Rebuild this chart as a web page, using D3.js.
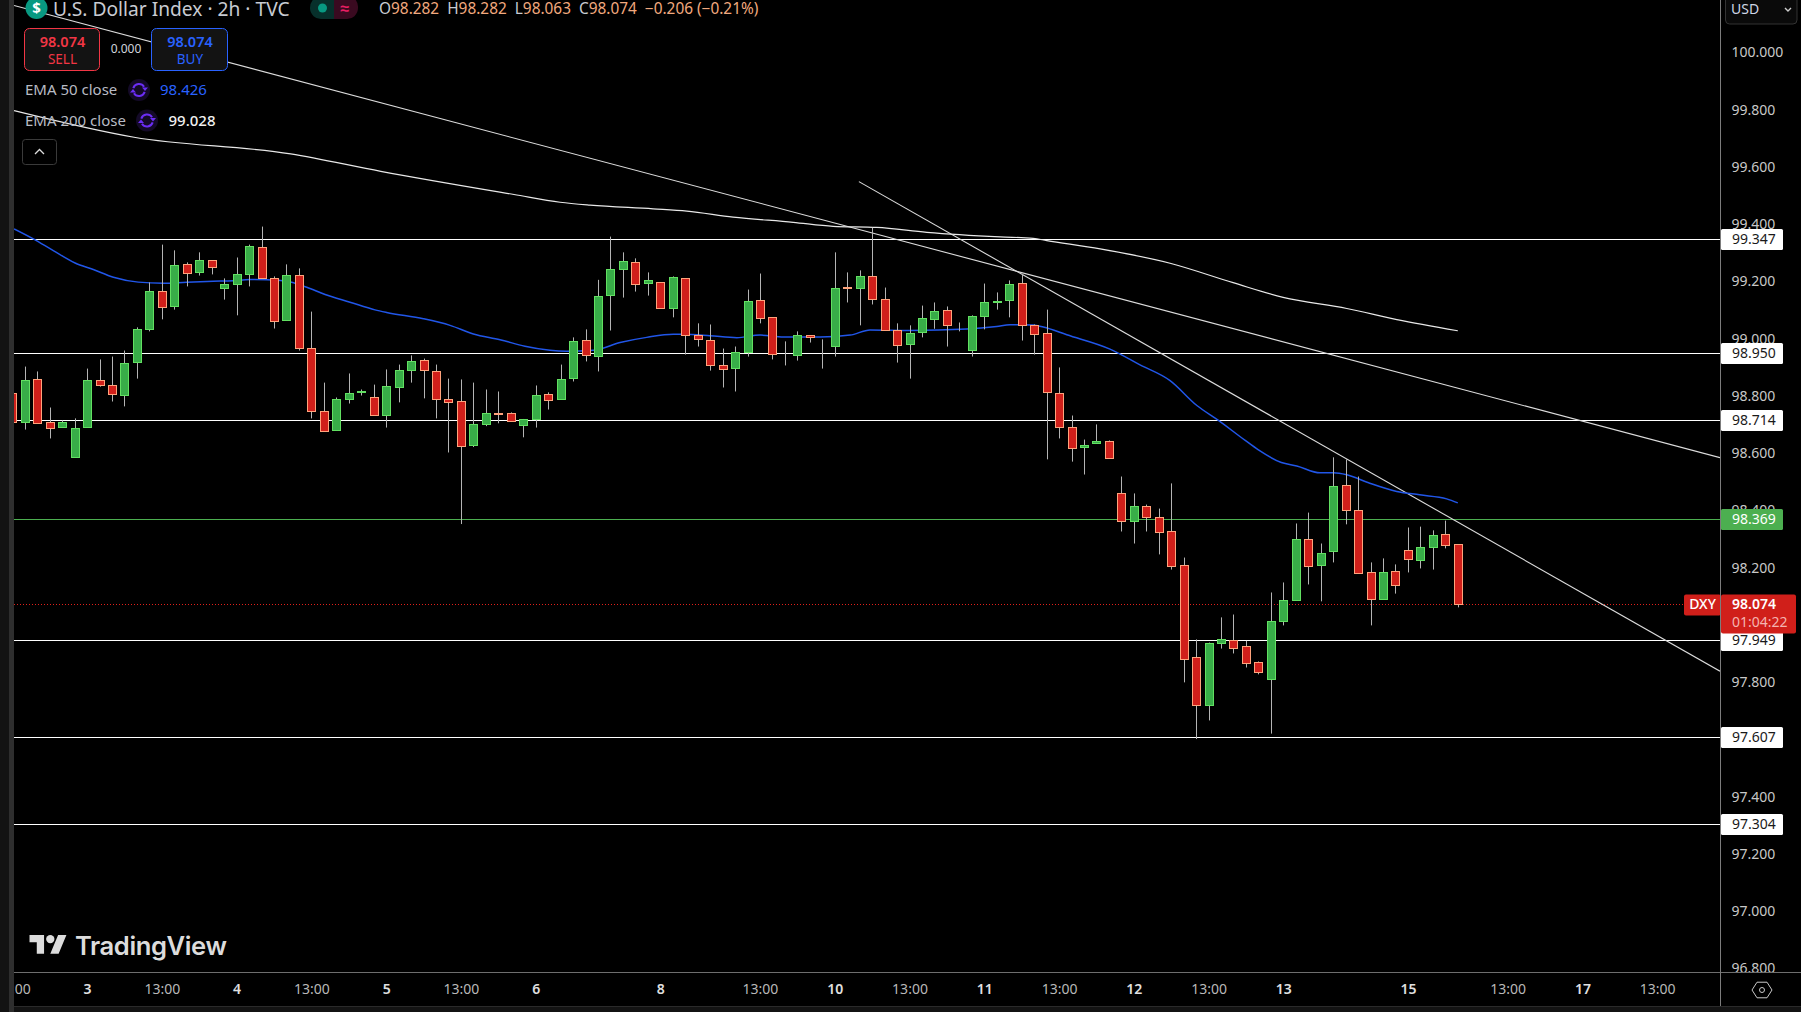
<!DOCTYPE html>
<html>
<head>
<meta charset="utf-8">
<style>
html,body{margin:0;padding:0;background:#000;overflow:hidden}
svg{display:block}
text{font-family:"Noto Sans",sans-serif}
</style>
<script src="https://cdn.jsdelivr.net/npm/d3@7"></script>
</head>
<body>
<svg id="c" width="1801" height="1012"></svg>
<script>
const opens=[98.811,98.708,98.858,98.708,98.690,98.585,98.690,98.854,98.837,98.802,98.917,99.032,99.165,99.113,99.259,99.232,99.273,99.176,99.190,99.225,99.319,99.211,99.064,99.221,98.966,98.746,98.680,98.788,98.815,98.795,98.732,98.830,98.889,98.924,98.886,98.788,98.781,98.630,98.701,98.739,98.739,98.697,98.720,98.805,98.788,98.861,98.994,98.938,99.151,99.242,99.266,99.193,99.197,99.106,99.211,99.012,98.994,98.907,98.896,98.952,99.134,99.074,98.942,98.942,99.012,98.979,98.973,99.179,99.176,99.218,99.137,99.029,98.980,99.022,99.067,99.099,99.047,98.959,99.078,99.127,99.134,99.193,99.046,99.018,98.809,98.690,98.620,98.634,98.641,98.460,98.362,98.414,98.376,98.327,98.208,97.887,97.719,97.936,97.946,97.925,97.869,97.810,98.012,98.086,98.299,98.208,98.257,98.488,98.400,98.184,98.089,98.187,98.260,98.226,98.271,98.316,98.282];
const highs=[98.811,98.904,98.887,98.761,98.716,98.723,98.897,98.929,98.939,98.960,99.041,99.198,99.330,99.310,99.268,99.303,99.273,99.212,99.285,99.330,99.393,99.219,99.261,99.247,99.096,98.848,98.796,98.880,98.824,98.841,98.894,98.911,98.943,98.932,98.911,98.862,98.859,98.848,98.824,98.817,98.744,98.721,98.838,98.814,98.911,99.006,99.034,99.207,99.358,99.303,99.282,99.233,99.197,99.219,99.211,99.055,99.051,98.967,98.974,99.173,99.229,99.074,98.992,99.027,99.012,98.999,99.303,99.233,99.240,99.389,99.180,99.055,99.048,99.117,99.128,99.114,99.058,99.083,99.194,99.163,99.205,99.228,99.051,99.103,98.901,98.733,98.649,98.702,98.646,98.520,98.461,98.422,98.408,98.496,98.237,97.951,97.940,98.028,98.038,97.946,97.874,98.115,98.150,98.356,98.394,98.286,98.587,98.580,98.520,98.220,98.234,98.213,98.342,98.345,98.332,98.366,98.282];
const lows=[98.708,98.684,98.704,98.653,98.690,98.585,98.690,98.834,98.782,98.765,98.862,99.027,99.069,99.103,99.184,99.222,99.226,99.138,99.083,99.184,99.211,99.037,99.064,98.960,98.723,98.676,98.680,98.775,98.803,98.732,98.691,98.779,98.848,98.793,98.723,98.604,98.354,98.623,98.696,98.706,98.711,98.657,98.691,98.754,98.788,98.852,98.922,98.887,99.030,99.145,99.166,99.152,99.106,99.076,98.946,98.974,98.890,98.831,98.817,98.939,99.055,98.929,98.908,98.925,98.988,98.897,98.939,99.128,99.048,99.121,99.029,98.918,98.862,99.006,99.036,98.974,99.027,98.939,99.034,99.103,99.076,98.995,98.946,98.580,98.653,98.572,98.527,98.634,98.582,98.328,98.286,98.328,98.248,98.195,97.801,97.603,97.668,97.919,97.902,97.853,97.829,97.622,98.000,98.086,98.143,98.084,98.220,98.353,98.180,98.000,98.089,98.111,98.185,98.199,98.195,98.269,98.063];
const closes=[98.708,98.854,98.704,98.687,98.708,98.687,98.854,98.839,98.805,98.914,99.032,99.165,99.109,99.256,99.228,99.273,99.249,99.190,99.225,99.322,99.211,99.060,99.221,98.966,98.746,98.676,98.788,98.809,98.816,98.732,98.833,98.889,98.921,98.889,98.788,98.777,98.626,98.701,98.739,98.738,98.711,98.718,98.802,98.784,98.858,98.991,98.942,99.148,99.242,99.270,99.190,99.204,99.106,99.214,99.012,98.998,98.907,98.893,98.952,99.130,99.071,98.945,98.941,99.012,99.004,98.977,99.176,99.178,99.218,99.137,99.029,98.977,99.018,99.071,99.095,99.046,99.046,99.078,99.127,99.130,99.190,99.046,99.015,98.812,98.690,98.617,98.627,98.641,98.582,98.362,98.414,98.376,98.323,98.205,97.880,97.719,97.936,97.950,97.918,97.866,97.834,98.012,98.086,98.299,98.205,98.250,98.484,98.400,98.180,98.089,98.184,98.138,98.229,98.271,98.313,98.278,98.074];

const ema50=[[0.1,99.385],[1.65,99.350],[3.25,99.309],[5,99.266],[6.46,99.243],[8.07,99.216],[10.07,99.199],[12.08,99.195],[13.95,99.199],[16.09,99.202],[17.7,99.204],[19.04,99.208],[20.38,99.207],[21.98,99.202],[23.59,99.181],[25.06,99.156],[27.06,99.129],[29.07,99.102],[30,99.093],[32.95,99.071],[35.09,99.048],[36.96,99.018],[39.1,98.998],[41.1,98.975],[43.11,98.961],[44.45,98.958],[46.59,98.961],[48.73,98.988],[50.87,99.006],[53,99.017],[53.81,99.017],[55.95,99.012],[58.1,99.005],[59.97,99.014],[61.84,99.007],[64.78,99.007],[67.2,99.014],[68.8,99.032],[72,99.030],[76.55,99.035],[78.96,99.044],[80.03,99.050],[81.9,99.049],[82.7,99.042],[84.58,99.015],[88.05,98.965],[90.46,98.910],[92.87,98.855],[95.02,98.768],[96.75,98.716],[98.9,98.646],[99.96,98.613],[101.8,98.569],[103.04,98.557],[104.9,98.533],[105.98,98.533],[107.05,98.526],[108.8,98.498],[111.06,98.468],[112.9,98.456],[115.07,98.442],[115.96,98.428]];
const ema200=[[0.1,99.798],[9.73,99.705],[22.3,99.647],[29.53,99.586],[40.22,99.505],[43.92,99.478],[46.32,99.468],[51.38,99.455],[54.09,99.447],[57.8,99.426],[62.62,99.408],[65.83,99.394],[69.33,99.390],[73.35,99.373],[79.23,99.357],[81.88,99.352],[82.98,99.344],[87.26,99.315],[92.87,99.265],[97.93,99.197],[101.94,99.146],[107.05,99.107],[111.07,99.068],[115.96,99.029]];
const trendA=[[0.1,100.165],[137,98.586]];
const trendB=[[67.9,99.550],[137,97.840]];

const levels=[99.347,98.950,98.714,97.949,97.607,97.304];
const greenLevel=98.369;
const lastPrice=98.074;
const priceTicks=[100,99.8,99.6,99.4,99.2,99,98.8,98.6,98.4,98.2,97.8,97.4,97.2,97,96.8];
const timeIdx=[0,6,12,18,24,30,36,42,52,60,66,72,78,84,90,96,102,112,120,126,132];
const timeLabels=["13:00","3","13:00","4","13:00","5","13:00","6","8","13:00","10","13:00","11","13:00","12","13:00","13","15","13:00","17","13:00"];

const svg=d3.select("#c");
const x=d3.scaleLinear().domain([0,116]).range([12.8,1458.3]);
const y=d3.scaleLinear().domain([100,96.8]).range([52.8,968.96]);
const axisX=1720, bottomY=972, leftX=14;
const crisp=v=>Math.floor(v)+0.5;

svg.append("rect").attr("width",1801).attr("height",1012).attr("fill","#000");
svg.append("defs").append("clipPath").attr("id","plot").append("rect")
  .attr("x",leftX).attr("y",0).attr("width",axisX-leftX).attr("height",bottomY);
const plot=svg.append("g").attr("clip-path","url(#plot)");

// horizontal levels
plot.selectAll(".lv").data(levels).join("line").attr("class","lv")
  .attr("x1",leftX).attr("x2",axisX).attr("y1",d=>crisp(y(d))).attr("y2",d=>crisp(y(d)))
  .attr("stroke","#fff").attr("stroke-width",1);
plot.append("line").attr("x1",leftX).attr("x2",axisX).attr("y1",crisp(y(greenLevel))).attr("y2",crisp(y(greenLevel)))
  .attr("stroke","#4caf50").attr("stroke-width",1);
plot.append("line").attr("x1",leftX).attr("x2",1684).attr("y1",crisp(y(lastPrice))).attr("y2",crisp(y(lastPrice)))
  .attr("stroke","#e0201a").attr("stroke-width",1).attr("stroke-dasharray","1 2");

const straight=d3.line().x(d=>x(d[0])).y(d=>y(d[1]));
const smooth=d3.line().x(d=>x(d[0])).y(d=>y(d[1])).curve(d3.curveMonotoneX);
[[trendA,straight,"#dcdcdc",1.1],[trendB,straight,"#dcdcdc",1.1],[ema200,smooth,"#e8e8e8",1.2],[ema50,smooth,"#2156e8",1.5]].forEach(([d,g,c,w])=>{
  plot.append("path").datum(d).attr("d",g).attr("fill","none").attr("stroke",c).attr("stroke-width",w);
});

// candles
const candles=opens.map((o,i)=>({i,o,h:highs[i],l:lows[i],c:closes[i]}));
plot.selectAll(".wick").data(candles).join("line").attr("class","wick")
  .attr("x1",d=>crisp(x(d.i))).attr("x2",d=>crisp(x(d.i)))
  .attr("y1",d=>y(d.h)).attr("y2",d=>y(d.l))
  .attr("stroke","#b4b4b4").attr("stroke-width",1);
plot.selectAll(".body").data(candles).join("rect").attr("class","body")
  .attr("x",d=>crisp(x(d.i))-4).attr("width",8)
  .attr("y",d=>crisp(y(Math.max(d.o,d.c))))
  .attr("height",d=>Math.max(0,crisp(y(Math.min(d.o,d.c)))-crisp(y(Math.max(d.o,d.c)))))
  .attr("fill",d=>d.c>=d.o?"#38ad48":"#d01f1a")
  .attr("stroke",d=>d.c>=d.o?"#62e062":"#ffa37c")
  .attr("stroke-width",1);

// price axis
const yAxis=d3.axisRight(y).tickValues(priceTicks).tickFormat(d3.format(".3f")).tickSize(0).tickPadding(11.5);
const yg=svg.append("g").attr("transform",`translate(${axisX},-0.5)`).call(yAxis);
yg.select(".domain").remove();
yg.selectAll("text").attr("fill","#c8c8c8").style("font-size","14px").style("font-family","'Noto Sans',sans-serif");

// level tags
const tag=svg.append("g");
function box(v,fill,col){
  const cy=crisp(y(v));
  tag.append("rect").attr("x",axisX+1).attr("y",cy-10.5).attr("width",62).attr("height",21).attr("rx",1.5).attr("fill",fill);
  tag.append("text").attr("x",axisX+12).attr("y",cy).attr("dy","0.35em").attr("fill",col).style("font-size","14px").text(d3.format(".3f")(v));
}
levels.forEach(v=>box(v,"#fff","#1a1a1a"));
box(greenLevel,"#4caf50","#fff");

// last price tag
const ly=crisp(y(lastPrice));
tag.append("rect").attr("x",1684).attr("y",ly-10).attr("width",37).attr("height",21).attr("rx",2).attr("fill","#d01f1a");
tag.append("text").attr("x",1702.5).attr("y",ly).attr("dy","0.35em").attr("text-anchor","middle").attr("fill","#fff").style("font-size","14px").style("font-weight",500).text("DXY");
tag.append("rect").attr("x",axisX+1).attr("y",ly-10).attr("width",75).attr("height",39).attr("rx",2).attr("fill","#d01f1a");
tag.append("text").attr("x",axisX+12).attr("y",ly).attr("dy","0.35em").attr("fill","#fff").style("font-size","14px").style("font-weight",600).text("98.074");
tag.append("text").attr("x",axisX+12).attr("y",ly+18).attr("dy","0.35em").attr("fill","#f4b4b0").style("font-size","14px").text("01:04:22");

// bottom band + time axis
svg.append("rect").attr("x",0).attr("y",bottomY).attr("width",1801).attr("height",40).attr("fill","#000");
const xAxis=d3.axisBottom(x).tickValues(timeIdx).tickFormat((d,i)=>timeLabels[i]).tickSize(0).tickPadding(12.5);
const xg=svg.append("g").attr("transform",`translate(-0.5,${bottomY})`).call(xAxis);
xg.select(".domain").remove();
xg.selectAll("text").style("font-size","14px").style("font-family","'Noto Sans',sans-serif")
  .attr("fill",(d,i)=>timeLabels[i]==="13:00"?"#b8b8b8":"#e0e0e0")
  .style("font-weight",(d,i)=>timeLabels[i]==="13:00"?400:600);
svg.append("line").attr("x1",leftX).attr("x2",1801).attr("y1",972.5).attr("y2",972.5).attr("stroke","#6e6e6e");
svg.append("line").attr("x1",axisX+.5).attr("x2",axisX+.5).attr("y1",0).attr("y2",1007).attr("stroke","#7c7c7c");
svg.append("rect").attr("x",0).attr("y",1007).attr("width",1801).attr("height",5).attr("fill","#131313");
svg.append("line").attr("x1",0).attr("x2",1801).attr("y1",1006.5).attr("y2",1006.5).attr("stroke","#2a2a2a");
svg.append("rect").attr("x",0).attr("y",0).attr("width",9).attr("height",1012).attr("fill","#131313");
svg.append("rect").attr("x",9).attr("y",0).attr("width",5).attr("height",1012).attr("fill","#2e2e2e");

// settings icon
const hex=d3.line()(d3.range(6).map(k=>{const a=k*Math.PI/3;return [1762+10*Math.cos(a),990+9*Math.sin(a)];}))+"Z";
svg.append("path").attr("d",hex).attr("fill","none").attr("stroke","#c8c8c8").attr("stroke-width",1);
svg.append("circle").attr("cx",1762).attr("cy",990).attr("r",2.5).attr("fill","none").attr("stroke","#c8c8c8");

// USD selector
svg.append("rect").attr("x",1725.5).attr("y",-6).attr("width",71.5).attr("height",30).attr("rx",4).attr("fill","#0a0a0a").attr("stroke","#333");
svg.append("text").attr("x",1731).attr("y",9).attr("dy","0.35em").attr("fill","#cfd6e6").style("font-size","14px").text("USD");
svg.append("path").attr("d","M1785 8l3 3 3-3").attr("fill","none").attr("stroke","#ccc").attr("stroke-width",1.4);

// header
svg.append("circle").attr("cx",36.5).attr("cy",8).attr("r",11).attr("fill","#089981");
svg.append("text").attr("x",36.5).attr("y",8).attr("dy","0.36em").attr("text-anchor","middle").attr("fill","#fff").style("font-size","15px").style("font-weight",700).text("$");
svg.append("text").attr("x",53).attr("y",9).attr("dy","0.35em").attr("fill","#c8cbd2").style("font-size","19.2px").text("U.S. Dollar Index · 2h · TVC");
svg.append("path").attr("d","M334 -5h-12a13 13 0 0 0 -12 13v0a11 11 0 0 0 12 11h12z").attr("fill","#07302b");
svg.append("path").attr("d","M334 -5h12a12 12 0 0 1 12 13v0a11 11 0 0 1 -12 11h-12z").attr("fill","#3a0a20");
svg.append("circle").attr("cx",322.5).attr("cy",8).attr("r",4.5).attr("fill","#089981");
svg.append("text").attr("x",345).attr("y",8).attr("dy","0.35em").attr("text-anchor","middle").attr("fill","#e91e63").style("font-size","16px").style("font-weight",700).text("≈");
const ohlc=svg.append("text").attr("x",379).attr("y",9).attr("dy","0.35em").style("font-size","15.4px").style("white-space","pre");
[["O","#c8cbd2"],["98.282  ","#f2a97e"],["H","#c8cbd2"],["98.282  ","#f2a97e"],["L","#c8cbd2"],["98.063  ","#f2a97e"],["C","#c8cbd2"],["98.074  −0.206 (−0.21%)","#f2a97e"]]
  .forEach(([t,c])=>ohlc.append("tspan").attr("fill",c).style("white-space","pre").text(t));

function trade(x0,w,col,label){
  svg.append("rect").attr("x",x0+.5).attr("y",28.5).attr("width",w).attr("height",42).attr("rx",5).attr("fill","#131313").attr("stroke",col);
  svg.append("text").attr("x",x0+w/2+1).attr("y",41.5).attr("dy","0.35em").attr("text-anchor","middle").attr("fill",col).style("font-size","14.5px").style("font-weight",600).text("98.074");
  svg.append("text").attr("x",x0+w/2+1).attr("y",59).attr("dy","0.35em").attr("text-anchor","middle").attr("fill",col).style("font-size","13.5px").text(label);
}
trade(24,75,"#f23645","SELL");
trade(151,76,"#2962ff","BUY");
svg.append("text").attr("x",126).attr("y",48.5).attr("dy","0.35em").attr("text-anchor","middle").attr("fill","#d1d4dc").style("font-size","12px").text("0.000");

function ema(yc,label,ix,vx,val,col,fw){
  svg.append("text").attr("x",25).attr("y",yc).attr("dy","0.35em").attr("fill","#b8bbc4").style("font-size","15px").text(label);
  svg.append("circle").attr("cx",ix).attr("cy",yc).attr("r",11).attr("fill","#140a28");
  const a=d3.arc().innerRadius(5).outerRadius(7);
  const g=svg.append("g").attr("transform",`translate(${ix},${yc})`).attr("fill","#6b2df5");
  [[-1.25,1.0],[1.89,4.14]].forEach(([s,e])=>g.append("path").attr("d",a({startAngle:s,endAngle:e})));
  g.append("path").attr("d","M3 -2.5h6l-3 3.5z");
  g.append("path").attr("d","M-3 2.5h-6l3 -3.5z");
  svg.append("text").attr("x",vx).attr("y",yc).attr("dy","0.35em").attr("fill",col).style("font-size","15px").style("font-weight",fw).text(val);
}
ema(90,"EMA 50 close",139,160,"98.426","#2962ff",400);
ema(120.5,"EMA 200 close",147,168.5,"99.028","#f0f0f0",500);

svg.append("rect").attr("x",22.5).attr("y",139.5).attr("width",34).attr("height",25).attr("rx",3).attr("fill","#000").attr("stroke","#3a3a3a");
svg.append("path").attr("d","M35 154l4.5-4.5 4.5 4.5").attr("fill","none").attr("stroke","#ddd").attr("stroke-width",1.3);

// watermark
const wm=svg.append("g").attr("transform","translate(29.5,930.8) scale(1.04)").attr("fill","#dcdcdc");
wm.append("path").attr("d","M14 22H7V11H0V4h14v18zM28 22h-8l7.5-18h8L28 22z");
wm.append("circle").attr("cx",20).attr("cy",8).attr("r",4);
svg.append("text").attr("x",75).attr("y",955).attr("fill","#dcdcdc").style("font-family","Inter,'Noto Sans',sans-serif").style("font-size","25.6px").style("font-weight",600).style("letter-spacing","-0.4px").text("TradingView");
</script>
</body>
</html>
